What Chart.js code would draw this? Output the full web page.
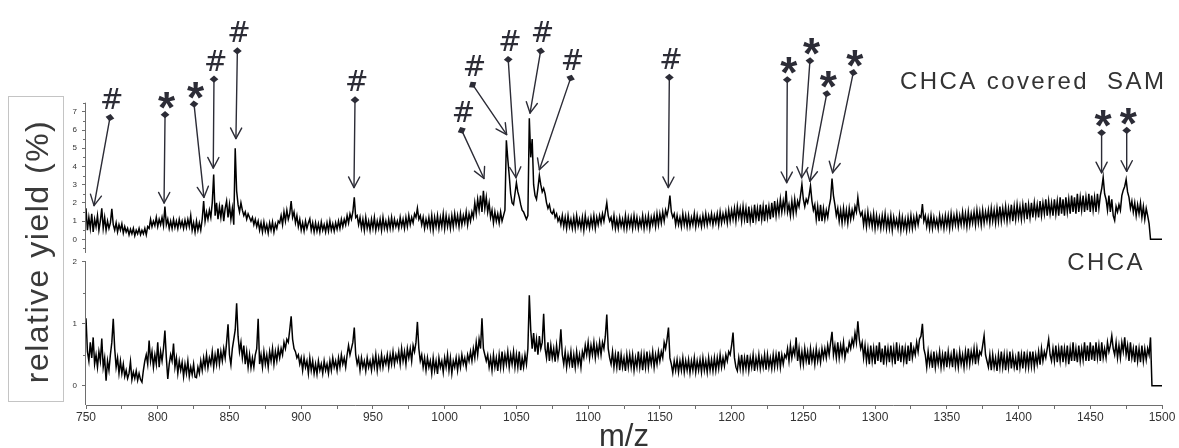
<!DOCTYPE html>
<html>
<head>
<meta charset="utf-8">
<script src="https://cdn.jsdelivr.net/npm/chart.js@4.4.1/dist/chart.umd.min.js"></script>
<style>
html,body{margin:0;padding:0;background:#fff;}
#wrap{width:1179px;height:448px;position:relative;}
canvas{display:block;}
</style>
</head>
<body>
<div id="wrap"><canvas id="c" width="1179" height="448"></canvas></div>
<script>
// ---- sampling grid of the spectra: one value per m/z unit, 750 ... 1500 ----
const mzStart = 750;
const mzStep = 1;

// ---- upper spectrum: "CHCA covered SAM" (relative yield, %), 20 values per row ----
const topSeries = [
 1.7,0.5,1.2,0.6,1.4,0.4,1.1,0.7,1.3,0.5, 1.0,1.7,0.6,1.2,0.5,1.0,0.6,0.9,1.67,0.8,
 0.5,0.9,0.4,0.8,0.5,0.85,0.35,0.7,0.4,0.6, 0.25,0.55,0.3,0.6,0.2,0.5,0.3,0.6,0.25,0.5,
 0.3,0.6,0.25,0.7,0.6,1.1,0.7,1.0,0.75,1.2, 0.7,1.1,0.8,1.2,0.75,1.8,0.8,1.1,0.6,1.0,
 0.6,1.1,0.65,1.0,0.6,1.1,0.7,1.0,0.6,1.05, 0.65,1.1,0.7,1.3,0.5,0.9,0.4,1.0,0.5,0.9,
 0.5,1.1,2.1,1.0,1.5,1.1,1.6,1.2,2.0,3.55, 1.3,2.0,1.1,1.8,1.2,1.9,1.0,1.7,2.1,1.2,
 1.9,1.1,1.7,0.8,5.0,2.65,1.9,1.5,2.0,1.6, 1.3,1.5,1.1,1.4,1.2,1.0,1.2,0.8,1.1,0.7,
 1.0,0.5,0.9,0.4,0.95,0.45,0.8,0.35,0.9,0.5, 0.95,0.4,0.85,0.6,1.0,0.9,1.3,0.8,1.5,1.0,
 1.6,1.1,1.4,2.1,1.2,1.5,0.9,1.3,0.7,1.1, 0.5,0.9,0.45,1.0,0.6,0.9,1.13,0.5,0.9,0.4,
 0.9,0.45,0.85,0.4,0.95,0.5,0.8,0.4,0.9,0.45, 1.0,0.5,0.85,0.45,0.9,0.55,1.0,0.6,1.1,0.7,
 1.1,0.8,1.3,0.9,1.4,1.1,1.5,2.3,1.2,1.3, 0.8,1.2,0.6,1.1,0.5,1.2,0.6,1.0,0.5,1.1,
 0.6,1.2,0.5,1.0,0.6,1.1,0.5,1.2,0.6,1.0, 0.55,1.1,0.6,1.2,0.6,1.1,0.7,1.0,0.6,1.2,
 0.7,1.1,0.6,1.2,0.7,1.3,0.8,1.2,0.9,1.4, 1.2,1.7,1.1,1.3,0.8,1.2,0.6,1.1,0.7,1.2,
 0.6,1.3,0.5,1.2,0.7,1.3,0.6,1.2,0.7,1.4, 0.6,1.3,0.7,1.2,0.6,1.3,0.7,1.4,0.8,1.3,
 0.7,1.4,0.8,1.3,0.9,1.5,0.8,1.4,1.0,1.5, 1.2,2.0,1.4,2.2,1.6,2.4,1.5,2.66,1.7,2.3,
 1.5,2.0,1.2,1.6,0.9,1.5,1.0,1.4,0.9,1.5, 1.0,1.3,1.6,5.44,4.4,3.5,2.5,2.0,1.9,2.5,
 3.1,2.6,2.3,1.9,1.6,1.5,1.3,1.1,1.3,6.64, 4.5,5.5,3.0,2.4,2.2,2.8,3.5,3.0,2.6,2.8,
 2.5,2.0,1.7,1.9,1.5,1.4,1.6,1.2,1.4,1.0, 1.2,0.8,1.3,0.7,1.2,0.6,1.3,0.7,1.1,0.6,
 1.2,0.6,1.3,0.7,1.1,0.6,1.2,0.5,1.3,0.7, 1.1,0.6,1.2,0.7,1.3,0.6,1.2,0.8,1.3,0.9,
 1.4,1.0,1.5,2.0,1.3,1.0,1.2,0.7,1.3,0.6, 1.1,0.6,1.2,0.7,1.1,0.6,1.3,0.6,1.2,0.7,
 1.2,0.6,1.3,0.7,1.2,0.6,1.1,0.7,1.3,0.6, 1.2,0.7,1.3,0.6,1.2,0.8,1.3,0.7,1.4,0.8,
 1.4,0.9,1.5,1.0,1.6,1.3,1.7,2.4,1.5,1.2, 1.4,0.8,1.3,0.8,1.2,0.7,1.4,0.8,1.3,0.7,
 1.3,0.7,1.2,0.8,1.4,0.7,1.3,0.8,1.2,0.7, 1.3,0.8,1.4,0.8,1.3,0.9,1.4,0.8,1.3,0.9,
 1.4,0.8,1.5,0.9,1.4,1.0,1.5,0.9,1.6,1.0, 1.6,1.1,1.7,1.0,1.8,1.2,1.7,1.0,1.8,1.1,
 1.7,0.9,1.8,1.0,1.6,0.9,1.9,1.1,1.7,1.0, 1.9,1.1,1.8,1.0,1.9,1.2,1.8,1.1,2.0,1.2,
 2.1,1.3,2.0,1.4,2.2,1.5,2.1,1.6,2.66,1.5, 1.9,1.3,2.1,1.4,2.2,1.5,2.1,1.8,2.4,3.02,
 2.2,1.8,2.2,2.0,2.4,2.93,2.1,1.6,1.9,1.1, 1.8,1.0,1.9,1.0,1.7,1.1,1.6,1.2,1.8,2.2,
 3.34,2.4,1.9,1.3,1.7,1.0,1.6,0.9,1.7,1.0, 1.6,0.9,1.7,1.1,1.6,1.2,1.8,1.5,2.3,1.6,
 1.3,1.5,0.8,1.4,0.7,1.5,0.8,1.3,0.7,1.4, 0.6,1.3,0.7,1.2,0.6,1.3,0.7,1.4,0.6,1.2,
 0.6,1.3,0.5,1.2,0.7,1.1,0.6,1.3,0.5,1.2, 0.6,1.1,0.5,1.2,0.6,1.3,0.6,1.2,0.7,1.3,
 0.8,1.3,1.2,1.94,1.0,1.3,0.7,1.2,0.6,1.3, 0.6,1.2,0.7,1.1,0.6,1.3,0.7,1.2,0.6,1.3,
 0.7,1.3,0.6,1.4,0.7,1.3,0.8,1.4,0.7,1.3, 0.8,1.5,0.8,1.4,0.7,1.5,0.8,1.4,0.9,1.5,
 0.8,1.6,0.9,1.5,0.8,1.6,0.9,1.5,1.0,1.6, 0.9,1.7,1.0,1.6,0.9,1.7,1.0,1.8,1.0,1.7,
 1.1,1.8,1.0,1.7,1.1,1.9,1.0,1.8,1.1,1.9, 1.2,1.8,1.1,1.9,1.2,2.0,1.1,1.9,1.2,2.0,
 1.2,2.0,1.3,1.9,1.2,2.1,1.3,2.0,1.4,2.2, 1.3,2.1,1.4,2.0,1.3,2.2,1.4,2.1,1.3,2.3,
 1.4,2.2,1.3,2.3,1.5,2.2,1.4,2.4,1.5,2.3, 1.4,2.5,1.5,2.3,1.6,2.4,1.5,2.3,1.6,2.5,
 1.5,2.4,1.6,2.3,1.5,2.5,1.7,2.4,2.8,3.4, 2.5,2.2,1.6,2.4,1.5,2.2,1.3,1.04,1.8,1.5,
 1.9,1.6,2.4,2.7,2.9,3.28,2.6,2.3,1.7,2.1, 1.5,2.0,1.3,1.9,1.4,2.0,1.2,1.8,1.1,1.7,
 1.3,0.86,0,0,0,0,0,0,0,0,0
];

// ---- lower spectrum: "CHCA" (relative yield, %), 20 values per row ----
const bottomSeries = [
 1.09,0.55,0.4,0.7,0.45,0.78,0.35,0.5,0.3,0.55, 0.4,0.76,0.3,0.45,0.08,0.4,0.25,0.5,0.7,1.08,
 0.6,0.3,0.45,0.2,0.4,0.2,0.35,0.15,0.25,0.12, 0.2,0.39,0.1,0.22,0.12,0.24,0.09,0.2,0.1,0.06,
 0.25,0.4,0.5,0.35,0.73,0.4,0.55,0.3,0.5,0.35, 0.7,0.3,0.55,0.4,0.6,0.89,0.45,0.11,0.35,0.5,
 0.4,0.68,0.3,0.45,0.2,0.4,0.25,0.38,0.15,0.35, 0.2,0.4,0.15,0.3,0.18,0.35,0.14,0.13,0.3,0.2,
 0.4,0.25,0.45,0.3,0.5,0.29,0.45,0.35,0.55,0.3, 0.5,0.35,0.6,0.35,0.55,0.4,0.6,0.45,0.7,0.99,
 0.5,0.34,0.6,0.75,0.9,1.33,0.8,0.55,0.7,0.45, 0.65,0.35,0.55,0.3,0.5,0.29,0.45,0.3,0.5,0.6,
 1.08,0.35,0.5,0.3,0.55,0.35,0.5,0.3,0.55,0.4, 0.6,0.35,0.55,0.4,0.6,0.45,0.6,0.5,0.7,0.6,
 0.75,0.7,0.9,1.12,0.75,0.6,0.55,0.45,0.5,0.35, 0.45,0.25,0.45,0.3,0.4,0.2,0.45,0.25,0.4,0.2,
 0.35,0.19,0.4,0.25,0.35,0.2,0.4,0.25,0.35,0.2, 0.4,0.25,0.45,0.3,0.4,0.25,0.45,0.3,0.5,0.35,
 0.45,0.3,0.5,0.65,0.5,0.6,0.7,0.94,0.5,0.35, 0.45,0.25,0.45,0.3,0.4,0.24,0.45,0.3,0.4,0.25,
 0.45,0.3,0.5,0.25,0.45,0.3,0.5,0.3,0.45,0.35, 0.5,0.3,0.5,0.35,0.55,0.35,0.5,0.4,0.55,0.35,
 0.6,0.4,0.55,0.35,0.6,0.45,0.6,0.4,0.65,0.55, 0.7,1.03,0.6,0.4,0.5,0.3,0.45,0.25,0.45,0.3,
 0.4,0.2,0.45,0.25,0.4,0.19,0.45,0.3,0.4,0.22, 0.45,0.3,0.5,0.25,0.45,0.2,0.4,0.3,0.45,0.25,
 0.45,0.3,0.5,0.35,0.45,0.3,0.5,0.4,0.55,0.4, 0.6,0.45,0.7,0.5,0.75,0.6,1.09,0.6,0.5,0.4,
 0.5,0.3,0.45,0.25,0.5,0.3,0.45,0.24,0.5,0.3, 0.55,0.3,0.5,0.35,0.55,0.3,0.5,0.35,0.55,0.3,
 0.5,0.3,0.55,0.25,0.45,0.3,0.5,0.35,0.6,1.46, 0.9,0.6,0.85,0.55,0.75,0.5,0.8,0.6,0.7,1.16,
 0.6,0.45,0.7,0.4,0.65,0.45,0.6,0.39,0.65,0.45, 0.6,0.91,0.5,0.35,0.55,0.3,0.5,0.35,0.55,0.29,
 0.5,0.3,0.55,0.35,0.5,0.3,0.55,0.45,0.65,0.5, 0.7,0.45,0.65,0.5,0.7,0.45,0.65,0.5,0.7,0.5,
 0.7,0.6,0.8,1.15,0.6,0.45,0.35,0.55,0.3,0.5, 0.3,0.55,0.25,0.5,0.3,0.45,0.24,0.5,0.3,0.5,
 0.3,0.5,0.25,0.45,0.3,0.55,0.3,0.5,0.25,0.5, 0.3,0.55,0.3,0.5,0.35,0.55,0.3,0.5,0.35,0.55,
 0.4,0.55,0.45,0.7,0.6,0.75,0.94,0.45,0.35,0.21, 0.4,0.25,0.42,0.22,0.4,0.25,0.45,0.22,0.4,0.25,
 0.42,0.21,0.4,0.25,0.45,0.22,0.4,0.25,0.42,0.22, 0.45,0.25,0.4,0.22,0.45,0.25,0.42,0.24,0.45,0.25,
 0.45,0.28,0.5,0.3,0.45,0.32,0.5,0.4,0.55,0.5, 0.65,0.86,0.45,0.3,0.24,0.45,0.28,0.5,0.25,0.45,
 0.28,0.5,0.25,0.45,0.3,0.5,0.24,0.45,0.3,0.5, 0.28,0.45,0.3,0.5,0.26,0.5,0.3,0.45,0.28,0.5,
 0.3,0.5,0.32,0.55,0.3,0.5,0.35,0.5,0.45,0.6, 0.4,0.65,0.45,0.6,0.5,0.78,0.4,0.6,0.35,0.55,
 0.35,0.6,0.4,0.55,0.34,0.6,0.4,0.55,0.35,0.6, 0.4,0.55,0.38,0.6,0.45,0.6,0.45,0.65,0.5,0.7,
 0.87,0.5,0.65,0.45,0.7,0.45,0.65,0.5,0.7,0.45, 0.6,0.55,0.7,0.6,0.75,0.65,0.85,0.7,1.04,0.75,
 0.6,0.7,0.45,0.65,0.4,0.6,0.35,0.65,0.4,0.6, 0.35,0.65,0.4,0.7,0.38,0.6,0.34,0.65,0.4,0.6,
 0.38,0.65,0.4,0.6,0.35,0.7,0.4,0.6,0.38,0.65, 0.4,0.6,0.35,0.65,0.4,0.7,0.45,0.6,0.5,0.7,
 0.55,0.75,0.8,1.0,0.6,0.5,0.3,0.55,0.35,0.5, 0.29,0.55,0.3,0.5,0.35,0.55,0.3,0.5,0.32,0.55,
 0.3,0.55,0.35,0.5,0.3,0.6,0.32,0.5,0.3,0.55, 0.35,0.5,0.3,0.55,0.35,0.6,0.35,0.55,0.4,0.6,
 0.35,0.6,0.4,0.55,0.5,0.65,0.81,0.5,0.4,0.3, 0.5,0.25,0.5,0.3,0.45,0.24,0.5,0.3,0.55,0.3,
 0.5,0.25,0.5,0.3,0.55,0.28,0.5,0.3,0.45,0.25, 0.55,0.3,0.5,0.28,0.55,0.3,0.5,0.3,0.55,0.32,
 0.55,0.3,0.5,0.35,0.55,0.34,0.6,0.4,0.55,0.45, 0.6,0.75,0.5,0.4,0.6,0.4,0.65,0.38,0.6,0.4,
 0.65,0.38,0.6,0.4,0.65,0.35,0.6,0.4,0.7,0.4, 0.6,0.38,0.65,0.4,0.6,0.42,0.7,0.4,0.65,0.4,
 0.7,0.42,0.65,0.4,0.7,0.45,0.65,0.4,0.7,0.45, 0.6,0.45,0.7,0.55,0.65,0.81,0.6,0.5,0.7,0.45,
 0.65,0.45,0.7,0.55,0.78,0.5,0.65,0.4,0.7,0.45, 0.6,0.38,0.65,0.4,0.6,0.38,0.65,0.4,0.6,0.42,
 0.6,0.5,0.78,0,0,0,0,0,0,0,0
];

// ---- axes ----
const xMajorTicks = [750,800,850,900,950,1000,1050,1100,1150,1200,1250,1300,1350,1400,1450,1500];
const xMinorTicks = [775,825,875,925,975,1025,1075,1125,1175,1225,1275,1325,1375,1425,1475];
const topYTicks = [0,1,2,3,4,5,6,7];
const topYMinorTicks = [-0.5,0.5,1.5,2.5,3.5,4.5,5.5,6.5,7.5];
const bottomYTicks = [0,1,2];
const bottomYMinorTicks = [0.5,1.5];
const topRange = [-0.86, 12.6];       // visible value range of upper panel
const bottomRange = [-0.31, 2.11];    // visible value range of lower panel
const topAxisSpan = [-0.75, 7.5];     // drawn extent of the upper y axis line
const bottomAxisSpan = [-0.31, 2];    // drawn extent of the lower y axis line

// ---- peak annotations (upper spectrum): symbol, arrow tip and marker base ----
const annSymbol = ['#','*','*','#','#','#','#','#','#','#','#','#','*','*','*','*','*','*'];
const annTipMz  = [755.6,804.4,832.2,838.7,854.5,936.8,1027.4,1043.2,1049.7,1059.5,1066.0,1155.9,1238.4,1248.8,1254.6,1270.4,1457.9,1475.4];
const annTipY   = [1.85,1.99,2.30,3.91,5.53,2.84,3.34,5.75,3.38,6.93,3.82,2.84,3.11,3.38,3.19,3.65,3.65,3.73];
const annBaseMz = [766.7,805.1,825.3,839.2,855.5,937.5,1011.9,1019.5,1044.3,1066.9,1087.8,1156.6,1238.8,1254.6,1266.3,1284.8,1457.9,1475.4];
const annBaseY  = [6.68,6.84,7.42,8.79,10.34,7.65,5.98,8.49,9.87,10.34,8.85,8.89,8.76,9.80,7.99,9.15,5.85,5.98];

// ---- series labels ----
const seriesNames = ['CHCA covered  SAM', 'CHCA'];
const seriesLabelMz = [1503, 1488];
const seriesLabelY = [8.24, 1.87];   // top-panel value / bottom-panel value

const AXIS_COLOR = '#6e6e6e';
const TEXT_COLOR = '#333333';
const ANN_COLOR = '#2c2c36';
const FONT = '"Liberation Sans", Arial, Helvetica, sans-serif';

const toPoints = arr => arr.map((v, i) => ({x: mzStart + i * mzStep, y: v}));

const overlayPlugin = {
  id: 'overlay',
  afterDraw(chart) {
    const {ctx, chartArea: ca, scales} = chart;
    const xs = scales.x, yt = scales.yTop, yb = scales.yBot;
    const seg = (x0, y0, x1, y1) => { ctx.beginPath(); ctx.moveTo(x0, y0); ctx.lineTo(x1, y1); ctx.stroke(); };
    ctx.save();

    // y axis lines and minor ticks
    ctx.strokeStyle = AXIS_COLOR;
    ctx.lineWidth = 1;
    const ax = Math.round(ca.left) - 0.5;
    seg(ax, yt.getPixelForValue(topAxisSpan[1]), ax, yt.getPixelForValue(topAxisSpan[0]));
    seg(ax, yb.getPixelForValue(bottomAxisSpan[1]), ax, ca.bottom);
    topYMinorTicks.forEach(v => { const y = Math.round(yt.getPixelForValue(v)) + 0.5; seg(ax - 2.5, y, ax, y); });
    bottomYMinorTicks.forEach(v => { const y = Math.round(yb.getPixelForValue(v)) + 0.5; seg(ax - 2.5, y, ax, y); });

    // y title in a box
    ctx.strokeStyle = '#c4c4c4';
    ctx.strokeRect(8.5, 96.5, 55, 305);
    ctx.save();
    ctx.translate(48, 251.5);
    ctx.rotate(-Math.PI / 2);
    ctx.fillStyle = '#3a3a3a';
    ctx.font = '32px ' + FONT;
    ctx.textAlign = 'center';
    ctx.textBaseline = 'alphabetic';
    try { ctx.letterSpacing = '1.5px'; } catch (e) {}
    ctx.fillText('relative yield (%)', 0, 0);
    ctx.restore();

    // x title
    ctx.fillStyle = '#333';
    ctx.font = '31px ' + FONT;
    ctx.textAlign = 'center';
    ctx.textBaseline = 'alphabetic';
    ctx.fillText('m/z', (ca.left + ca.right) / 2, 446);

    // series labels
    ctx.fillStyle = TEXT_COLOR;
    ctx.font = '24px ' + FONT;
    ctx.textAlign = 'right';
    try { ctx.letterSpacing = '2.4px'; } catch (e) {}
    ctx.fillText(seriesNames[0], xs.getPixelForValue(seriesLabelMz[0]), yt.getPixelForValue(seriesLabelY[0]));
    ctx.fillText(seriesNames[1], xs.getPixelForValue(seriesLabelMz[1]), yb.getPixelForValue(seriesLabelY[1]));
    try { ctx.letterSpacing = '0px'; } catch (e) {}

    // annotations: marker, arrow, symbol
    ctx.strokeStyle = ANN_COLOR;
    ctx.fillStyle = ANN_COLOR;
    ctx.lineWidth = 1.4;
    ctx.lineCap = 'round';
    ctx.lineJoin = 'round';
    for (let i = 0; i < annSymbol.length; i++) {
      const x0 = xs.getPixelForValue(annBaseMz[i]), y0 = yt.getPixelForValue(annBaseY[i]);
      const x1 = xs.getPixelForValue(annTipMz[i]), y1 = yt.getPixelForValue(annTipY[i]);
      const ang = Math.atan2(y1 - y0, x1 - x0);
      seg(x0, y0, x1, y1);
      const L = 12, a = Math.PI / 6.5;
      ctx.beginPath();
      ctx.moveTo(x1 - L * Math.cos(ang - a), y1 - L * Math.sin(ang - a));
      ctx.lineTo(x1, y1);
      ctx.lineTo(x1 - L * Math.cos(ang + a), y1 - L * Math.sin(ang + a));
      ctx.stroke();
      // diamond marker aligned with the arrow
      ctx.save();
      ctx.translate(x0, y0);
      ctx.rotate(ang - Math.PI / 2);
      ctx.beginPath();
      ctx.moveTo(0, -3.6); ctx.lineTo(4.4, 0); ctx.lineTo(0, 3.6); ctx.lineTo(-4.4, 0);
      ctx.closePath();
      ctx.fill();
      ctx.restore();
      // symbol
      const sym = annSymbol[i];
      ctx.font = sym === '#' ? '28px "DejaVu Sans", sans-serif' : 'bold 44px ' + FONT;
      ctx.textAlign = 'center';
      ctx.textBaseline = 'alphabetic';
      const m = ctx.measureText(sym);
      const cy = y0 - (sym === '#' ? 19 : 14);
      const cx = x0 + 2;
      ctx.fillText(sym, cx + (m.actualBoundingBoxLeft - m.actualBoundingBoxRight) / 2, cy + (m.actualBoundingBoxAscent - m.actualBoundingBoxDescent) / 2);
    }
    ctx.restore();
  }
};

const yTickFont = {family: FONT, size: 8};

new Chart(document.getElementById('c'), {
  type: 'line',
  data: {
    datasets: [
      {label: seriesNames[0], data: toPoints(topSeries), yAxisID: 'yTop', borderColor: '#000', borderWidth: 1.5, pointRadius: 0, tension: 0},
      {label: seriesNames[1], data: toPoints(bottomSeries), yAxisID: 'yBot', borderColor: '#000', borderWidth: 1.5, pointRadius: 0, tension: 0}
    ]
  },
  options: {
    responsive: false,
    animation: false,
    devicePixelRatio: 1,
    parsing: false,
    normalized: true,
    layout: {padding: {top: 2, right: 17, left: 0, bottom: 0}},
    plugins: {legend: {display: false}, tooltip: {enabled: false}, title: {display: false}},
    scales: {
      x: {
        type: 'linear', position: 'bottom', min: 750, max: 1500,
        afterBuildTicks: s => { s.ticks = xMajorTicks.concat(xMinorTicks).sort((a, b) => a - b).map(v => ({value: v})); },
        afterFit: s => { s.height = 43; },
        ticks: {autoSkip: false, maxRotation: 0, minRotation: 0, padding: 1, color: TEXT_COLOR,
                font: {family: FONT, size: 12},
                callback: v => xMajorTicks.includes(v) ? String(v) : ''},
        grid: {drawOnChartArea: false, drawTicks: true, tickLength: 4, color: AXIS_COLOR},
        border: {display: true, color: AXIS_COLOR, width: 1}
      },
      yBot: {
        type: 'linear', position: 'left', stack: 'panels', stackWeight: 153,
        min: bottomRange[0], max: bottomRange[1],
        afterBuildTicks: s => { s.ticks = bottomYTicks.map(v => ({value: v})); },
        afterFit: s => { s.width = 86; },
        ticks: {autoSkip: false, padding: 5, color: TEXT_COLOR, font: yTickFont, callback: v => String(v)},
        grid: {drawOnChartArea: false, drawTicks: true, tickLength: 4, color: AXIS_COLOR},
        border: {display: false}
      },
      yTop: {
        type: 'linear', position: 'left', stack: 'panels', stackWeight: 250,
        min: topRange[0], max: topRange[1],
        afterBuildTicks: s => { s.ticks = topYTicks.map(v => ({value: v})); },
        afterFit: s => { s.width = 86; },
        ticks: {autoSkip: false, padding: 5, color: TEXT_COLOR, font: yTickFont, callback: v => String(v)},
        grid: {drawOnChartArea: false, drawTicks: true, tickLength: 4, color: AXIS_COLOR},
        border: {display: false}
      }
    }
  },
  plugins: [overlayPlugin]
});
</script>
</body>
</html>
